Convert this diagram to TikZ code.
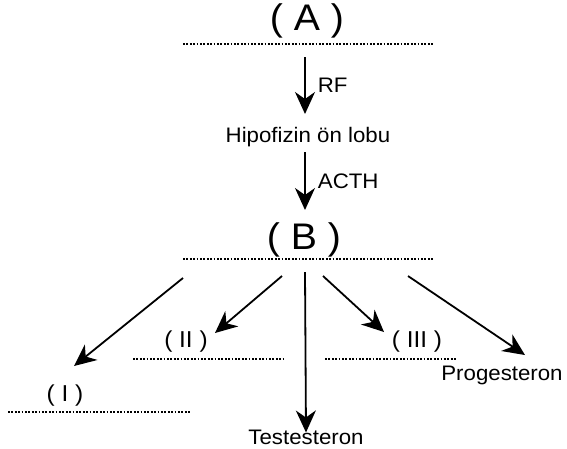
\documentclass[tikz,border=0pt]{standalone}
\usepackage{fontspec}
\setmainfont{Liberation Sans}
\usetikzlibrary{arrows.meta}
\newcommand{\wide}[1]{\scalebox{1.06}[1]{#1}}

\begin{document}
\begin{tikzpicture}[x=1pt,y=-1pt,
  blank/.style={dash pattern=on 1.7pt off 1.7pt, line width=1.9pt},
  arr/.style={line width=1.8pt,-{Stealth[length=22pt,width=20pt,inset=7pt]}},
  big/.style={font=\fontsize{37}{39}\selectfont, inner sep=0pt},
  mid/.style={font=\fontsize{23}{25}\selectfont, inner sep=0pt},
  small/.style={font=\fontsize{21}{23}\selectfont, inner sep=0pt}]
\useasboundingbox (0,0) rectangle (567,448);
% top: (A) and the pituitary
\node[big] (A) at (307,21) {\wide{( A )}};
\draw[blank] (183,44) -- (433,44);
\coordinate (a1) at (305,57);
\coordinate (a2) at (305,114);
\node[small] (hip) at (308,137) {\wide{Hipofizin \"on lobu}};
\draw[arr] (a1) -- (a2) node[midway, right=12pt, small] {\wide{RF}};
% (B)
\node[big] (B) at (304,240) {\wide{( B )}};
\draw[blank] (183,259) -- (433,259);
\coordinate (b1) at (305,152);
\coordinate (b2) at (305,210);
\draw[arr] (b1) -- (b2) node[midway, right=12pt, small] {\wide{ACTH}};
% products of (B)
\node[mid] (one) at (65,396) {\wide{( I )}};
\draw[blank] (8,412) -- (190,412);
\node[mid] (two) at (186,342) {\wide{( II )}};
\draw[blank] (133,359) -- (285,359);
\node[mid] (three) at (417,342) {\wide{( III )}};
\draw[blank] (325,359) -- (457,359);
\node[small] (test) at (306,437) {\wide{Testesteron}};
\node[small] (prog) at (502,375) {\wide{Progesteron}};
\coordinate (s1) at (183,278);
\coordinate (s2) at (282,276);
\coordinate (s3) at (305,272);
\coordinate (s4) at (323,276);
\coordinate (s5) at (408,276);
\draw[arr] (s1) -- (74,366);
\draw[arr] (s2) -- (215,333);
\draw[arr] (s3) -- ([yshift=-3pt]test.north);
\draw[arr] (s4) -- (384,332);
\draw[arr] (s5) -- (525,355);
\end{tikzpicture}
\end{document}
